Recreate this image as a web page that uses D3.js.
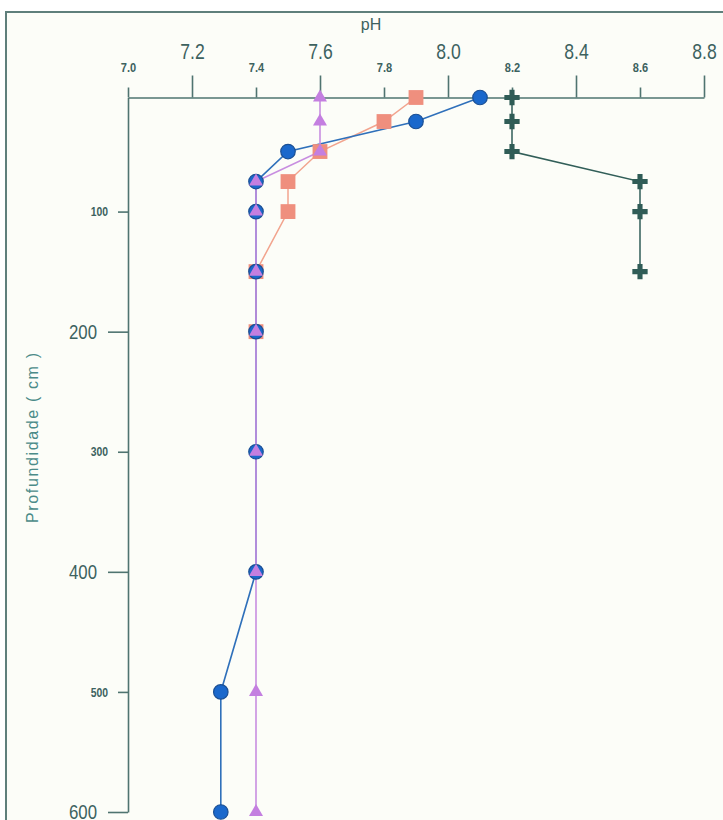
<!DOCTYPE html>
<html>
<head>
<meta charset="utf-8">
<script src="https://cdn.jsdelivr.net/npm/d3@7"></script>
<style>
  html, body { margin: 0; padding: 0; background: #ffffff; }
  .chart { width: 723px; height: 820px; overflow: hidden; }
  .chart text { font-family: "Liberation Sans", Arial, sans-serif; }
</style>
</head>
<body>
<div class="chart"></div>
<script>
// depths (cm) shared by the profiles
const depths = [5, 25, 50, 75, 100, 150, 200, 300, 400, 500, 600];

// pH for each profile
const phCircle   = [8.1, 7.9, 7.5, 7.4, 7.4, 7.4, 7.4, 7.4, 7.4, 7.29, 7.29];
const phTriangle = [7.6, 7.6, 7.6, 7.4, 7.4, 7.4, 7.4, 7.4, 7.4, 7.4, 7.4];
const phSquare   = [7.9, 7.8, 7.6, 7.5, 7.5, 7.4, 7.4];
const phCross    = [8.2, 8.2, 8.2, 8.6, 8.6, 8.6];

// tick labels (big / small alternate like the original)
const xTicksBig = [7.2, 7.6, 8.0, 8.4, 8.8];
const xTicksSmall = [7.0, 7.4, 7.8, 8.2, 8.6];
const yTicksBig = [200, 400, 600];
const yTicksSmall = [100, 300, 500];

const axisColor = "#4f7470";
const labelColor = "#3d625f";

const svg = d3.select(".chart")
  .append("svg")
  .attr("width", 723)
  .attr("height", 820);

// scanned page frame
svg.append("rect")
  .attr("x", 6).attr("y", 12)
  .attr("width", 760).attr("height", 860)
  .attr("fill", "#fcfdf8")
  .attr("stroke", "#5f7f7b")
  .attr("stroke-width", 2);

const x = d3.scaleLinear().domain([7.0, 8.8]).range([128, 704]);
const y = d3.scaleLinear().domain([5, 600]).range([97.5, 812]);

// squeeze tick labels horizontally (the scan uses a narrow face)
function narrow(g, sx) {
  g.selectAll(".tick text").each(function() {
    const t = d3.select(this);
    const x0 = +t.attr("x") || 0;
    t.attr("x", x0 / sx).attr("transform", `scale(${sx},1)`);
  });
}

// top axis, big labels with long ticks
const gxBig = svg.append("g")
  .attr("transform", `translate(0,${y(5)})`)
  .call(d3.axisTop(x).tickValues(xTicksBig).tickSize(22).tickSizeOuter(0).tickPadding(17)
    .tickFormat(d3.format(".1f")));
gxBig.selectAll("text").attr("font-size", 22).attr("fill", labelColor);
narrow(gxBig, 0.8);

// top axis, small bold labels with short ticks
const gxSmall = svg.append("g")
  .attr("transform", `translate(0,${y(5)})`)
  .call(d3.axisTop(x).tickValues(xTicksSmall).tickSize(10).tickSizeOuter(0).tickPadding(16)
    .tickFormat(d3.format(".1f")));
gxSmall.selectAll("text").attr("font-size", 13).attr("font-weight", "bold").attr("fill", labelColor);
gxSmall.select(".domain").remove();
narrow(gxSmall, 0.85);

// left axis
const gyBig = svg.append("g")
  .attr("transform", `translate(${x(7.0)},0)`)
  .call(d3.axisLeft(y).tickValues(yTicksBig).tickSize(20).tickSizeOuter(0).tickPadding(11));
gyBig.selectAll("text").attr("font-size", 21).attr("fill", labelColor);
narrow(gyBig, 0.8);

const gySmall = svg.append("g")
  .attr("transform", `translate(${x(7.0)},0)`)
  .call(d3.axisLeft(y).tickValues(yTicksSmall).tickSize(10).tickSizeOuter(0).tickPadding(10));
gySmall.selectAll("text").attr("font-size", 13).attr("font-weight", "bold").attr("fill", labelColor);
gySmall.select(".domain").remove();
narrow(gySmall, 0.8);

svg.selectAll(".domain, .tick line")
  .attr("stroke", axisColor)
  .attr("stroke-width", 1.6);

// axis titles
svg.append("text")
  .attr("x", 371).attr("y", 30)
  .attr("text-anchor", "middle")
  .attr("font-size", 16)
  .attr("fill", labelColor)
  .text("pH");

svg.append("text")
  .attr("transform", "translate(38,438) rotate(-90)")
  .attr("text-anchor", "middle")
  .attr("font-size", 16)
  .attr("fill", "#4b8b88")
  .attr("textLength", 170)
  .attr("lengthAdjust", "spacing")
  .text("Profundidade ( cm )");

const series = [
  { values: phCross, line: "#315e58", fill: "#2f5c56", stroke: "none", symbol: d3.symbolCross, size: 130, lw: 1.5 },
  { values: phSquare, line: "#f2a48e", fill: "#ef8f7e", stroke: "none", symbol: d3.symbolSquare, size: 220, lw: 1.5 },
  { values: phCircle, line: "#2f70ba", fill: "#1a68cc", stroke: "#1a4f94", symbol: d3.symbolCircle, size: 165, lw: 1.6 },
  { values: phTriangle, line: "#c88ee0", fill: "#c47fe0", stroke: "none", symbol: d3.symbolTriangle, size: 85, lw: 1.6 }
];

const line = d3.line()
  .x(d => x(d.ph))
  .y(d => y(d.depth));

series.forEach(s => {
  s.points = s.values.map((v, i) => ({ ph: v, depth: depths[i] }));
});

// lines first
series.forEach(s => {
  svg.append("path")
    .datum(s.points)
    .attr("d", line)
    .attr("fill", "none")
    .attr("stroke", s.line)
    .attr("stroke-width", s.lw);
});

// markers: squares, circles, triangles, crosses
[series[1], series[2], series[3], series[0]].forEach(s => {
  svg.append("g")
    .selectAll("path")
    .data(s.points)
    .join("path")
    .attr("transform", d => `translate(${x(d.ph)},${y(d.depth)})`)
    .attr("d", d3.symbol().type(s.symbol).size(s.size))
    .attr("fill", s.fill)
    .attr("stroke", s.stroke)
    .attr("stroke-width", 1.2);
});
</script>
</body>
</html>
